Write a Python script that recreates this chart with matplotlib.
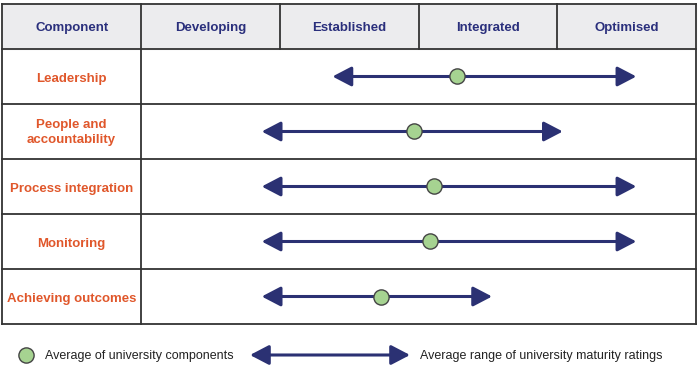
import matplotlib
matplotlib.use("Agg")
import matplotlib.pyplot as plt
from matplotlib import font_manager

# maturity levels (columns) and components (rows)
levels = ["Developing", "Established", "Integrated", "Optimised"]
components = ["Leadership", "People and\naccountability", "Process integration",
              "Monitoring", "Achieving outcomes"]
# average range of ratings (in level units, 0 = left edge of Developing)
range_low = [1.38, 0.87, 0.87, 0.87, 0.87]
range_high = [3.57, 3.04, 3.57, 3.57, 2.53]
# average of university components
averages = [2.28, 1.97, 2.11, 2.08, 1.73]

NAVY = "#2b3173"
TEXT_NAVY = "#2a2f7c"
ORANGE = "#e0572b"
GREEN = "#a6d391"
GRID = "#333333"
HEAD_BG = "#ececee"

names = {f.name for f in font_manager.fontManager.ttflist}
base_font = "Liberation Sans" if "Liberation Sans" in names else "DejaVu Sans"
narrow_font = "Liberation Sans Narrow" if "Liberation Sans Narrow" in names else base_font
plt.rcParams["font.family"] = [base_font, "DejaVu Sans"]

fig = plt.figure(figsize=(7.0, 3.73), dpi=100)
ax = fig.add_axes([0, 0, 1, 1])
# x: one unit per maturity column, y: one unit per row
col_w = 138.75
ax.set_xlim(-141 / col_w, (700 - 141) / col_w)
ax.set_ylim((373 - 76.5) / 55, -76.5 / 55)
ax.axis("off")

left, right = -1.0, 4.0
top, head_bot = -1.32, -0.5
bottom = len(components) - 0.5

# header background
ax.fill_between([left, right], top, head_bot, color=HEAD_BG, zorder=0)

# table lines
for y in [top, head_bot] + [i + 0.5 for i in range(len(components))]:
    ax.plot([left, right], [y, y], color=GRID, lw=1.3, zorder=1)
ax.plot([left, left], [top, bottom], color=GRID, lw=1.3, zorder=1)
ax.plot([right, right], [top, bottom], color=GRID, lw=1.3, zorder=1)
ax.plot([0, 0], [top, bottom], color=GRID, lw=1.3, zorder=1)
for i in range(1, len(levels)):
    ax.plot([i, i], [top, head_bot], color=GRID, lw=1.3, zorder=1)

# header text
hy = (top + head_bot) / 2
ax.text(-0.5, hy, "Component", ha="center", va="center_baseline", fontsize=9.5,
        fontweight="bold", color=TEXT_NAVY)
for i, lev in enumerate(levels):
    ax.text(i + 0.5, hy, lev, ha="center", va="center_baseline", fontsize=9.5,
            fontweight="bold", color=TEXT_NAVY)

# component labels
for i, comp in enumerate(components):
    multi = "\n" in comp
    ax.text(-0.5, i + 0.02, comp, ha="center",
            va="center" if multi else "center_baseline", fontsize=9.5,
            fontweight="bold", color=ORANGE, linespacing=1.4)

# range arrows
astyle = "<|-|>,head_length=1.15,head_width=0.6"
for i in range(len(components)):
    ax.annotate("", xy=(range_high[i], i), xytext=(range_low[i], i),
                arrowprops=dict(arrowstyle=astyle, mutation_scale=10, lw=2.2,
                                color=NAVY, shrinkA=0, shrinkB=0), zorder=3)

# averages
ax.scatter(averages, range(len(components)), s=120, color=GREEN,
           edgecolor="#444444", linewidth=1, zorder=4)

# legend
ly = (355 - 76.5) / 55
ax.scatter([(26 - 141) / col_w], [ly], s=120, color=GREEN,
           edgecolor="#444444", linewidth=1, zorder=4, clip_on=False)
ax.text((45 - 141) / col_w, ly, "Average of university components", ha="left",
        va="center_baseline", fontsize=9, color="#222222", family=narrow_font)
ax.annotate("", xy=((410 - 141) / col_w, ly), xytext=((250 - 141) / col_w, ly),
            arrowprops=dict(arrowstyle=astyle, mutation_scale=10, lw=2.2,
                            color=NAVY, shrinkA=0, shrinkB=0))
ax.text((420 - 141) / col_w, ly, "Average range of university maturity ratings",
        ha="left", va="center_baseline", fontsize=9, color="#222222",
        family=narrow_font)

fig.savefig("out.png", dpi=100)
